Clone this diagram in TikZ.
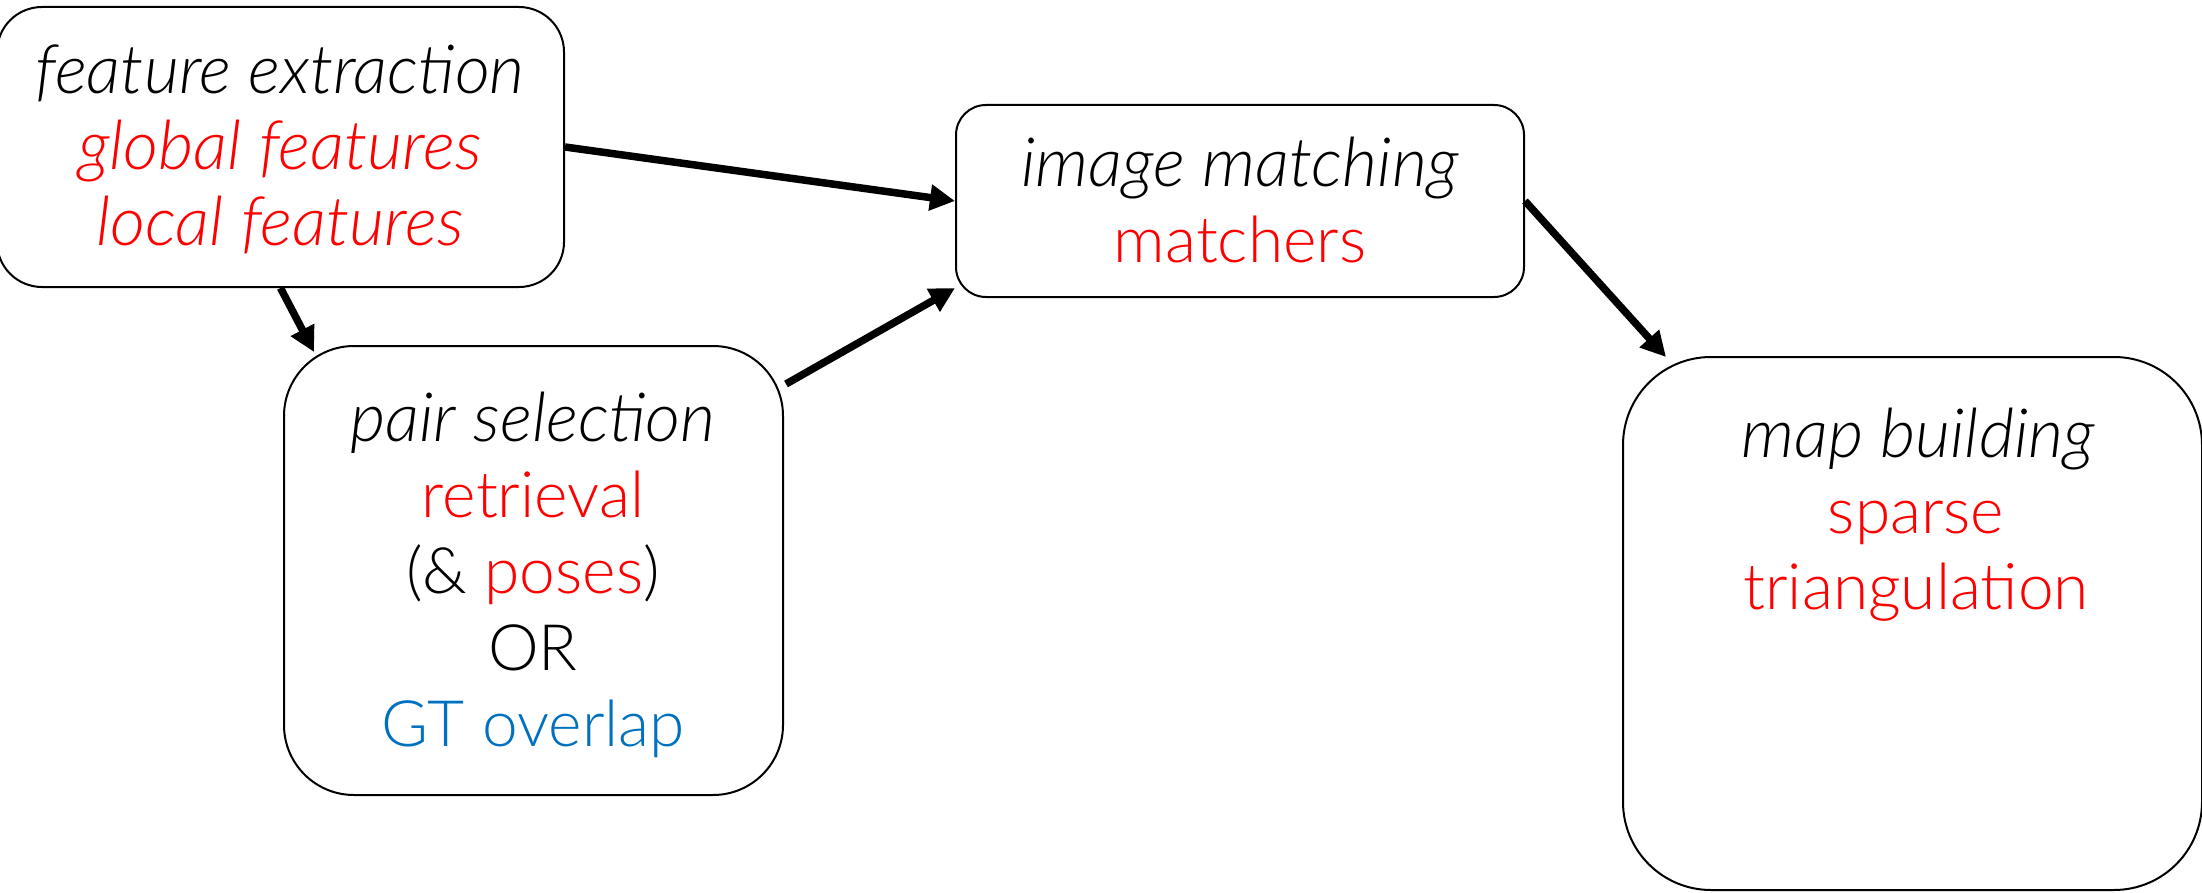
\documentclass[tikz,border=0pt]{standalone}
\usepackage{fontspec}
\setmainfont{Lato Light}[ItalicFont={Lato Light Italic}]
\usetikzlibrary{arrows.meta,calc}
\definecolor{hired}{RGB}{255,0,0}
\definecolor{gtblue}{RGB}{0,112,192}
\begin{document}
\begin{tikzpicture}[x=1pt,y=-1pt,
  stage/.style={draw=black, line width=2pt, rounded corners=#1, inner sep=0pt, fill=white},
  txt/.style={anchor=base, inner sep=0pt, font=\fontsize{64}{76}\selectfont},
  ittxt/.style={anchor=base, inner sep=0pt, font=\fontsize{68}{76}\selectfont\itshape},
  flow/.style={line width=7.5pt, -{Triangle[length=25pt,width=25pt]}}]
\useasboundingbox (0,0) rectangle (2202,893);

% pipeline stages
\node[stage=45pt, minimum width=567pt, minimum height=280pt] (A) at (280.5,147) {};
\node[stage=30pt, minimum width=568pt, minimum height=192pt] (B) at (1240,201) {};
\node[stage=70pt, minimum width=499pt, minimum height=449pt] (C) at (533.5,570.5) {};
\node[stage=88pt, minimum width=579pt, minimum height=533pt] (D) at (1912.5,623.5) {};

% feature extraction
\node[ittxt] (A1) at (280,94) {feature extraction};
\node[ittxt, text=hired] (A2) at (280,170) {global features};
\node[ittxt, text=hired] (A3) at (280,246) {local features};

% image matching
\node[ittxt] (B1) at (1240,187) {image matching};
\node[txt, text=hired] (B2) at (1240,263) {matchers};

% pair selection
\node[ittxt] (C1) at (533,441) {pair selection};
\node[txt, text=hired] (C2) at (533,517) {retrieval};
\node[txt] (C3) at (533,593) {(\& \textcolor{hired}{poses})};
\node[txt] (C4) at (533,670) {OR};
\node[txt, text=gtblue] (C5) at (533,746) {GT overlap};

% map building
\node[ittxt] (D1) at (1918,457) {map building};
\node[txt, text=hired] (D2) at (1916,533) {sparse};
\node[txt, text=hired] (D3) at (1916,609) {triangulation};

% data flow
\draw[flow] (A.east) -- (B.west);
\draw[flow] (A.south) -- ($(C.north west)+(31,7)$);
\draw[flow] ($(C.north east)+(2,39)$) -- ($(B.south west)+(0,-10)$);
\draw[flow] (B.east) -- ($(D.north west)+(44,1)$);
\end{tikzpicture}
\end{document}
